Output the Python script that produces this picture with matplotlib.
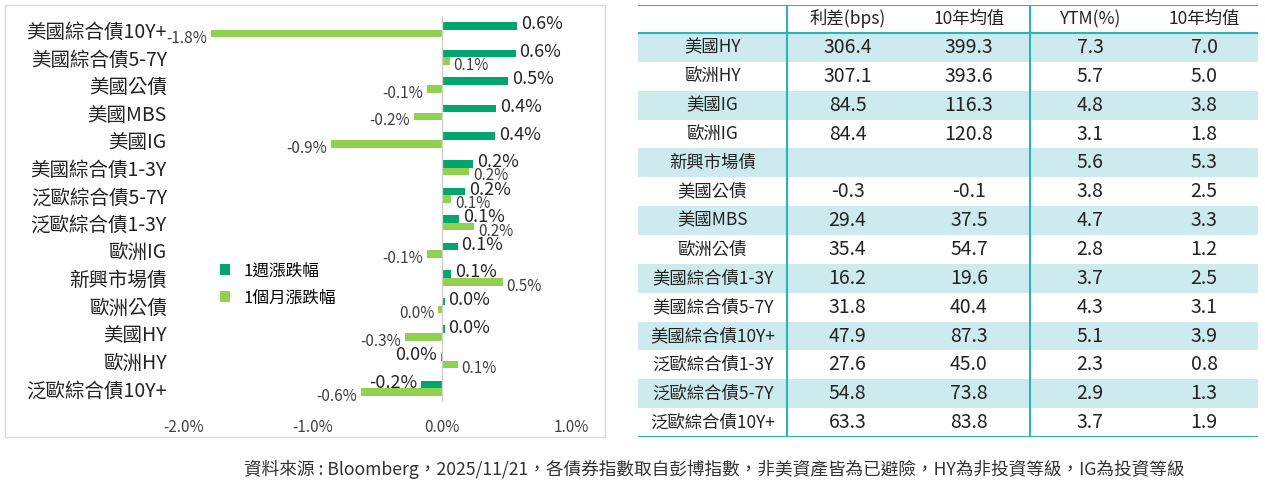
import matplotlib
matplotlib.use("Agg")
import matplotlib.pyplot as plt
from matplotlib.patches import Rectangle

plt.rcParams['font.family'] = ['Noto Sans CJK TC', 'DejaVu Sans']

categories = ['美國綜合債10Y+', '美國綜合債5-7Y', '美國公債', '美國MBS', '美國IG', '美國綜合債1-3Y',
              '泛歐綜合債5-7Y', '泛歐綜合債1-3Y', '歐洲IG', '新興市場債', '歐洲公債', '美國HY', '歐洲HY', '泛歐綜合債10Y+']
week = [0.58, 0.57, 0.51, 0.42, 0.41, 0.24, 0.18, 0.13, 0.12, 0.07, 0.02, 0.02, -0.01, -0.16]
month = [-1.79, 0.06, -0.12, -0.22, -0.86, 0.21, 0.07, 0.25, -0.12, 0.47, -0.03, -0.29, 0.12, -0.63]
xticks = [-2.0, -1.0, 0.0, 1.0]

tbl_rows = ['美國HY', '歐洲HY', '美國IG', '歐洲IG', '新興市場債', '美國公債', '美國MBS', '歐洲公債',
            '美國綜合債1-3Y', '美國綜合債5-7Y', '美國綜合債10Y+', '泛歐綜合債1-3Y', '泛歐綜合債5-7Y', '泛歐綜合債10Y+']
tbl_cols = ['利差(bps)', '10年均值', 'YTM(%)', '10年均值']
spread = ['306.4', '307.1', '84.5', '84.4', '', '-0.3', '29.4', '35.4', '16.2', '31.8', '47.9', '27.6', '54.8', '63.3']
spread10 = ['399.3', '393.6', '116.3', '120.8', '', '-0.1', '37.5', '54.7', '19.6', '40.4', '87.3', '45.0', '73.8', '83.8']
ytm = ['7.3', '5.7', '4.8', '3.1', '5.6', '3.8', '4.7', '2.8', '3.7', '4.3', '5.1', '2.3', '2.9', '3.7']
ytm10 = ['7.0', '5.0', '3.8', '1.8', '5.3', '2.5', '3.3', '1.2', '2.5', '3.1', '3.9', '0.8', '1.3', '1.9']

W, H = 1265, 482
fig = plt.figure(figsize=(W/100, H/100), dpi=100)
fig.patches.append(Rectangle((5/W, 1-437/H), 600/W, 432/H, transform=fig.transFigure,
                             fill=False, edgecolor='#D9D9D9', lw=1))

DG, LG = '#00A66E', '#92D050'
ax = fig.add_axes([171/W, 1-402/H, 426/W, 386/H])
n = len(categories)
ys = list(range(n))
h = 0.27
ax.barh([y-0.14 for y in ys], week, height=h, color=DG, label='1週漲跌幅')
ax.barh([y+0.14 for y in ys], month, height=h, color=LG, label='1個月漲跌幅')
for y, w, m in zip(ys, week, month):
    lw_ = f'{w:.1f}%' if abs(w) >= 0.05 else '0.0%'
    if w >= 0:
        ax.text(w+0.03, y-0.2, lw_, ha='left', va='center', fontsize=13, fontweight='medium', color='#262626')
    else:
        ax.text(w-0.03, y-0.2, lw_, ha='right', va='center', fontsize=13, fontweight='medium', color='#262626')
    lab = f'{m:.1f}%' if abs(m) >= 0.05 else '0.0%'
    if m >= 0:
        ax.text(m+0.03, y+0.3, lab, ha='left', va='center', fontsize=11, color='#404040')
    else:
        ax.text(m-0.03, y+0.3, lab, ha='right', va='center', fontsize=11, color='#404040')
ax.set_xlim(-2.1, 1.2)
ax.set_ylim(n-0.5, -0.5)
ax.set_yticks(ys)
ax.set_yticklabels(categories, fontsize=14, fontweight='medium', color='#222222')
ax.set_xticks(xticks)
ax.set_xticklabels([f'{t:.1f}%' for t in xticks], fontsize=11, color='#404040')
ax.tick_params(length=0, pad=3)
ax.tick_params(axis='x', pad=12)
for s in ax.spines.values():
    s.set_visible(False)
ax.axvline(0, color='#D0D0D0', lw=1)
ax.legend(loc='upper left', bbox_to_anchor=(0.08, 0.40), frameon=False, fontsize=12,
          handlelength=0.6, handleheight=0.6, labelspacing=0.6)

# table
tx0, tx1, ty0, ty1 = 638, 1258, 5, 437
tax = fig.add_axes([tx0/W, 1-ty1/H, (tx1-tx0)/W, (ty1-ty0)/H])
tax.set_xlim(0, tx1-tx0)
tax.set_ylim(ty1-ty0, 0)
tax.axis('off')
bounds = [0, 149, 270, 392, 512, 620]
hh = 28
rh = (ty1-ty0-hh)/len(tbl_rows)
TEAL = '#2AB3B8'
for i in range(len(tbl_rows)):
    if i % 2 == 0:
        tax.add_patch(Rectangle((0, hh+i*rh), 620, rh, color='#CDEBEE', lw=0))
for j, c in enumerate(tbl_cols):
    tax.text((bounds[j+1]+bounds[j+2])/2, hh/2, c, ha='center', va='center', fontsize=12.5, color='#222222')
cols = [spread, spread10, ytm, ytm10]
for i, r in enumerate(tbl_rows):
    yc = hh + (i+0.5)*rh
    tax.text(bounds[1]/2, yc, r, ha='center', va='center', fontsize=12.5, color='#222222')
    for j, col in enumerate(cols):
        tax.text((bounds[j+1]+bounds[j+2])/2, yc, col[i], ha='center', va='center', fontsize=14, color='#222222')
for yy in [0, hh, ty1-ty0]:
    tax.axhline(yy, color=TEAL, lw=1.5)
for xx in [bounds[1], bounds[3]]:
    tax.axvline(xx, color=TEAL, lw=1.5)

fig.text(714/W, 1-469/H, '資料來源 : Bloomberg，2025/11/21，各債券指數取自彭博指數，非美資產皆為已避險，HY為非投資等級，IG為投資等級',
         ha='center', va='center', fontsize=12.7, color='#333333')
fig.savefig('out.png', dpi=100)
